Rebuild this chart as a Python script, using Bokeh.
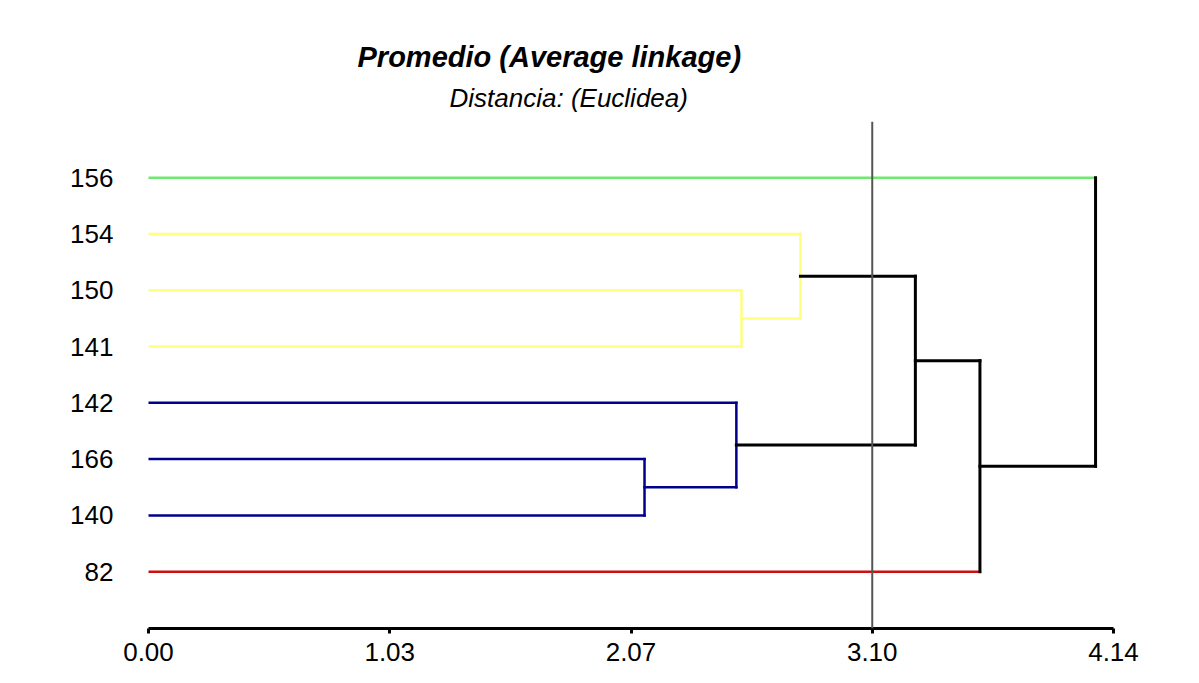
from bokeh.plotting import figure
from bokeh.models import Range1d, FixedTicker, PrintfTickFormatter, Span, Title, ColumnDataSource
from bokeh.embed import file_html
from bokeh.resources import INLINE

# ---- data -------------------------------------------------------------
leaves = ["156", "154", "150", "141", "142", "166", "140", "82"]          # top -> bottom
leaf_groups = ["g", "y", "y", "y", "b", "b", "b", "r"]
group_colors = {"g": "#72e872", "y": "#ffff80", "b": "#000088", "r": "#cc1010"}
merge_ids = ["m1", "m2", "m3", "m4", "m5", "m6", "m7"]
merge_left = ["166", "142", "150", "154", "m4", "m5", "156"]
merge_right = ["140", "m1", "141", "m3", "m2", "82", "m6"]
merge_height = [2.128, 2.522, 2.544, 2.797, 3.290, 3.567, 4.063]
cut_height = 3.105
x_ticks = [0.0, 1.035, 2.07, 3.105, 4.14]
title_text = "Promedio (Average linkage)"
subtitle_text = "Distancia: (Euclidea)"

# ---- build dendrogram geometry ----------------------------------------
n = len(leaves)
node_y, node_h, node_g = {}, {}, {}
for i, (lf, g) in enumerate(zip(leaves, leaf_groups)):
    node_y[lf] = n - i
    node_h[lf] = 0.0
    node_g[lf] = g

x0, y0, x1, y1, col, lw = [], [], [], [], [], []
for mid, a, b, h in zip(merge_ids, merge_left, merge_right, merge_height):
    g = node_g[a] if node_g[a] is not None and node_g[a] == node_g[b] else None
    mcol = group_colors[g] if g else "black"
    for c in (a, b):
        ccol = group_colors[node_g[c]] if c in leaves else mcol
        x0.append(node_h[c]); x1.append(h); y0.append(node_y[c]); y1.append(node_y[c])
        col.append(ccol); lw.append(3 if ccol == "black" else 2.5)
    x0.append(h); x1.append(h); y0.append(node_y[a]); y1.append(node_y[b])
    col.append(mcol); lw.append(3 if mcol == "black" else 2.5)
    node_y[mid] = (node_y[a] + node_y[b]) / 2.0
    node_h[mid] = h
    node_g[mid] = g

src = ColumnDataSource(dict(x0=x0, y0=y0, x1=x1, y1=y1, color=col, lw=lw))

# ---- figure -------------------------------------------------------------
p = figure(width=1191, height=675,
           x_range=Range1d(x_ticks[0], x_ticks[-1]), y_range=Range1d(-0.01, n + 1.0),
           output_backend="svg", toolbar_location=None,
           min_border_left=148, min_border_right=78, min_border_top=121, min_border_bottom=47)
p.outline_line_color = None
p.grid.visible = False
p.background_fill_color = "white"
p.border_fill_color = "white"

sub = Title(text=subtitle_text, text_font="Liberation Sans", text_font_style="italic",
            text_font_size="26px", text_color="black", align="left", offset=301, standoff=18)
main = Title(text=title_text, text_font="Liberation Sans", text_font_style="bold italic",
             text_font_size="29px", text_color="black", align="left", offset=209, standoff=-2)
p.add_layout(sub, "above")
p.add_layout(main, "above")

p.add_layout(Span(location=cut_height, dimension="height", line_color="#555555", line_width=2))

p.segment(x0="x0", y0="y0", x1="x1", y1="y1", line_color="color", line_width="lw",
          line_cap="square", source=src)

# x axis
xa = p.xaxis[0]
xa.ticker = FixedTicker(ticks=x_ticks)
xa.formatter = PrintfTickFormatter(format="%.2f")
xa.axis_line_width = 3
xa.axis_line_color = "black"
xa.major_tick_line_width = 3
xa.major_tick_line_color = "black"
xa.major_tick_out = 5
xa.major_tick_in = 0
xa.minor_tick_line_color = None
xa.major_label_text_font = "Liberation Sans"
xa.major_label_text_font_size = "26px"
xa.major_label_text_color = "black"
xa.major_label_standoff = 9

# y axis (leaf labels)
ya = p.yaxis[0]
ya.ticker = FixedTicker(ticks=[node_y[lf] for lf in leaves])
ya.major_label_overrides = {node_y[lf]: lf for lf in leaves}
ya.axis_line_color = None
ya.major_tick_line_color = None
ya.minor_tick_line_color = None
ya.major_tick_out = 0
ya.major_tick_in = 0
ya.major_label_standoff = 35
ya.major_label_text_font = "Liberation Sans"
ya.major_label_text_font_size = "26px"
ya.major_label_text_color = "black"

open("out.html", "w").write(file_html(p, INLINE))
